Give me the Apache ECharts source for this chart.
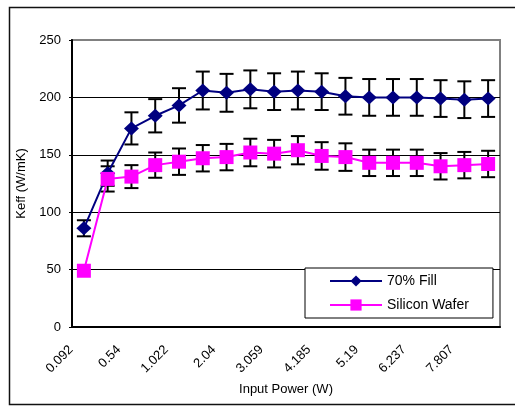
<!DOCTYPE html>
<html>
<head>
<meta charset="utf-8">
<script src="https://cdn.jsdelivr.net/npm/echarts@6/dist/echarts.min.js"></script>
<style>
html,body{margin:0;padding:0;background:#fff;}
#chart{width:515px;height:406px;}
</style>
</head>
<body>
<div id="chart"></div>
<script>
// Categories (Input Power, W); odd entries are unlabelled in the reference (estimated)
var categories = ['0.092','0.3','0.54','0.78','1.022','1.5','2.04','2.55','3.059','3.6','4.185','4.69','5.19','5.72','6.237','7.0','7.807','8.6'];
var fillValues = [86,134,173,184,193,206,204,207,205,206,205,201,200,200,200,199,198,199];
var fillErrors = [7,11,14,14.5,15,16.5,16.5,16.5,16,16.5,16,16,16,16,16,16,16,16];
var waferValues = [49,129,131,141,144,147,148,152,151,154,149,148,143,143,143,140,141,142];
var waferErrors = [0,11,10,11,11.5,11.5,11.5,12,12,12.3,12,12,11.5,11.5,11.5,11.5,11.5,11.5];
var yTicks = [0,50,100,150,200,250];

var chart = echarts.init(document.getElementById('chart'));

function errData(vals, errs){
  return vals.map(function(v,i){ return [i, v - errs[i], v + errs[i]]; });
}
function errRender(params, api){
  var x = api.value(0);
  var lo = api.coord([x, api.value(1)]);
  var hi = api.coord([x, api.value(2)]);
  if (api.value(2) - api.value(1) <= 0) return null;
  var hw = 7;
  var st = {stroke:'#000', lineWidth:2, fill:null};
  return {type:'group', children:[
    {type:'line', shape:{x1:hi[0],y1:hi[1],x2:lo[0],y2:lo[1]}, style:st},
    {type:'line', shape:{x1:hi[0]-hw,y1:hi[1],x2:hi[0]+hw,y2:hi[1]}, style:st},
    {type:'line', shape:{x1:lo[0]-hw,y1:lo[1],x2:lo[0]+hw,y2:lo[1]}, style:st}
  ]};
}

var font = 'Liberation Sans, Arial, sans-serif';
chart.setOption({
  animation:false,
  backgroundColor:'#fff',
  textStyle:{fontFamily:font},
  graphic:[{type:'rect', left:7, top:5, shape:{width:520, height:397}, style:{fill:null, stroke:'#111', lineWidth:1.5}, z:-1}],
  grid:{left:72, top:40, right:15, bottom:79, show:true, borderColor:'#808080', borderWidth:2, backgroundColor:'#fff'},
  legend:{
    orient:'vertical', left:305, top:268,
    padding:[6,24,6,24], itemGap:10, itemWidth:52, itemHeight:14,
    backgroundColor:'#fff', borderColor:'#000', borderWidth:1,
    textStyle:{fontFamily:font, fontSize:14, color:'#000'},
    data:['70% Fill','Silicon Wafer']
  },
  xAxis:{
    type:'category', data:categories, boundaryGap:true,
    name:'Input Power (W)', nameLocation:'middle', nameGap:56,
    nameTextStyle:{fontFamily:font, fontSize:13, color:'#000'},
    axisLine:{lineStyle:{color:'#000', width:2}},
    axisTick:{inside:true, length:4, interval:0, lineStyle:{color:'#000'}},
    axisLabel:{interval:1, rotate:45, margin:8, padding:[0,18,0,0], fontFamily:font, fontSize:13, color:'#000'},
    splitLine:{show:false}
  },
  yAxis:{
    type:'value', min:yTicks[0], max:yTicks[yTicks.length-1], interval:50,
    name:'Keff (W/mK)', nameLocation:'middle', nameGap:40,
    nameTextStyle:{fontFamily:font, fontSize:13, color:'#000'},
    axisLine:{show:true, lineStyle:{color:'#000', width:2}},
    axisTick:{show:true, length:3, lineStyle:{color:'#000'}},
    axisLabel:{margin:11, fontFamily:font, fontSize:13, color:'#000'},
    splitLine:{show:true, showMinLine:false, showMaxLine:false, lineStyle:{color:'#000', width:1}}
  },
  series:[
    {type:'custom', name:'fillErr', renderItem:errRender, data:errData(fillValues, fillErrors), z:2, silent:true, encode:{x:0,y:[1,2]}},
    {type:'custom', name:'waferErr', renderItem:errRender, data:errData(waferValues, waferErrors), z:2, silent:true, encode:{x:0,y:[1,2]}},
    {type:'line', name:'70% Fill', data:fillValues, symbol:'diamond', symbolSize:[15,14],
     itemStyle:{color:'#000080'}, lineStyle:{color:'#000080', width:2}, z:3},
    {type:'line', name:'Silicon Wafer', data:waferValues, symbol:'rect', symbolSize:14,
     itemStyle:{color:'#FF00FF'}, lineStyle:{color:'#FF00FF', width:2}, z:4}
  ]
});
</script>
</body>
</html>
